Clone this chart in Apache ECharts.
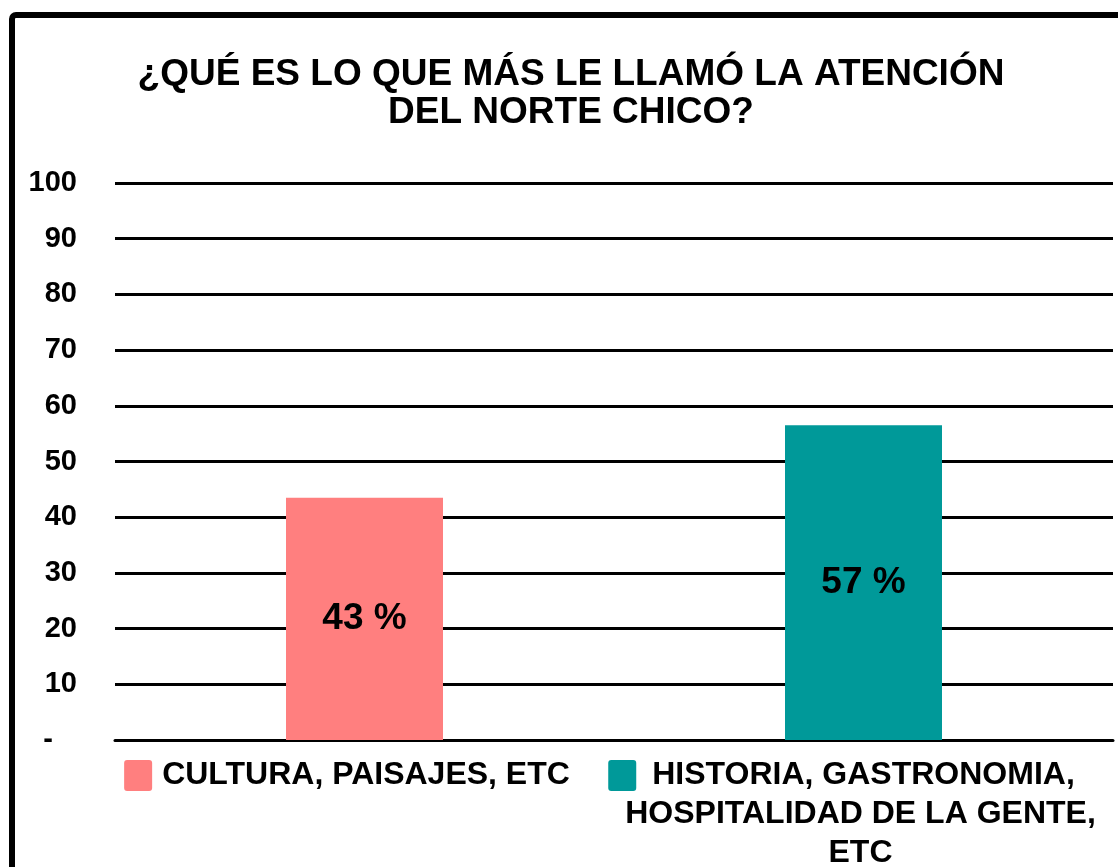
<!DOCTYPE html>
<html>
<head>
<meta charset="utf-8">
<script src="https://cdn.jsdelivr.net/npm/echarts@6/dist/echarts.min.js"></script>
<style>
  html, body { margin: 0; padding: 0; background: #fff; }
  #chart { width: 1118px; height: 867px; }
</style>
</head>
<body>
<div id="chart"></div>
<script>
var categories = ['CULTURA, PAISAJES, ETC', 'HISTORIA, GASTRONOMIA,\nHOSPITALIDAD DE LA GENTE,\nETC'];
var values = [43.48, 56.52];
var colors = ['#FF7F7F', '#009999'];
var yTicks = [0, 10, 20, 30, 40, 50, 60, 70, 80, 90, 100];

var font = '"Liberation Sans", Arial, sans-serif';
var chart = echarts.init(document.getElementById('chart'));

// each category label carries its own colour square, like the legend in the original
function catLabel(value, idx) {
  var lines = value.split('\n');
  var out = '{sq' + idx + '|}{gap' + idx + '|}{t|' + lines[0] + '}{pad' + idx + '|}';
  for (var i = 1; i < lines.length; i++) {
    out += '\n{t|' + lines[i] + '}{tail' + idx + '|}';
  }
  return out;
}

chart.setOption({
  backgroundColor: '#fff',
  animation: false,
  title: {
    text: '¿QUÉ ES LO QUE MÁS LE LLAMÓ LA ATENCIÓN\nDEL NORTE CHICO?',
    left: 566,
    top: 51,
    textAlign: 'center',
    textStyle: {
      fontFamily: font,
      fontWeight: 'bold',
      fontSize: 37,
      lineHeight: 38,
      color: '#000'
    }
  },
  graphic: [{
    type: 'rect',
    shape: { x: 12, y: 15, width: 1200, height: 1000, r: 4 },
    style: { fill: 'none', stroke: '#000', lineWidth: 6 },
    silent: true
  }],
  grid: { left: 115, right: 5, top: 183, bottom: 127, outerBoundsMode: 'none' },
  xAxis: {
    type: 'category',
    data: categories,
    axisLine: { lineStyle: { color: '#000', width: 3 } },
    axisTick: { show: false },
    axisLabel: {
      interval: 0,
      margin: 16,
      formatter: catLabel,
      rich: {
        sq0: { width: 28, height: 31, backgroundColor: colors[0], borderRadius: 3, verticalAlign: 'middle' },
        sq1: { width: 28, height: 31, backgroundColor: colors[1], borderRadius: 3, verticalAlign: 'middle' },
        gap0: { width: 10 },
        gap1: { width: 16 },
        pad0: { width: 35 },
        pad1: { width: 44 },
        tail0: { width: 0 },
        tail1: { width: 6 },
        t: {
          fontFamily: font,
          fontWeight: 'bold',
          fontSize: 32,
          lineHeight: 39,
          color: '#000',
          verticalAlign: 'middle'
        }
      }
    }
  },
  yAxis: {
    type: 'value',
    min: 0,
    max: 100,
    interval: 10,
    axisLine: { show: false },
    axisTick: { show: false },
    splitLine: { lineStyle: { color: '#000', width: 3 } },
    axisLabel: {
      margin: 38,
      fontFamily: font,
      fontWeight: 'bold',
      fontSize: 29,
      color: '#000',
      formatter: function (v) { return v === 0 ? '-   ' : v; }
    }
  },
  series: [{
    type: 'bar',
    barWidth: 157,
    data: values.map(function (v, i) {
      return { value: v, itemStyle: { color: colors[i] } };
    }),
    label: {
      show: true,
      position: 'inside',
      fontFamily: font,
      fontWeight: 'bold',
      fontSize: 37,
      color: '#000',
      formatter: function (p) { return Math.round(p.value) + ' %'; }
    }
  }]
});
</script>
</body>
</html>
